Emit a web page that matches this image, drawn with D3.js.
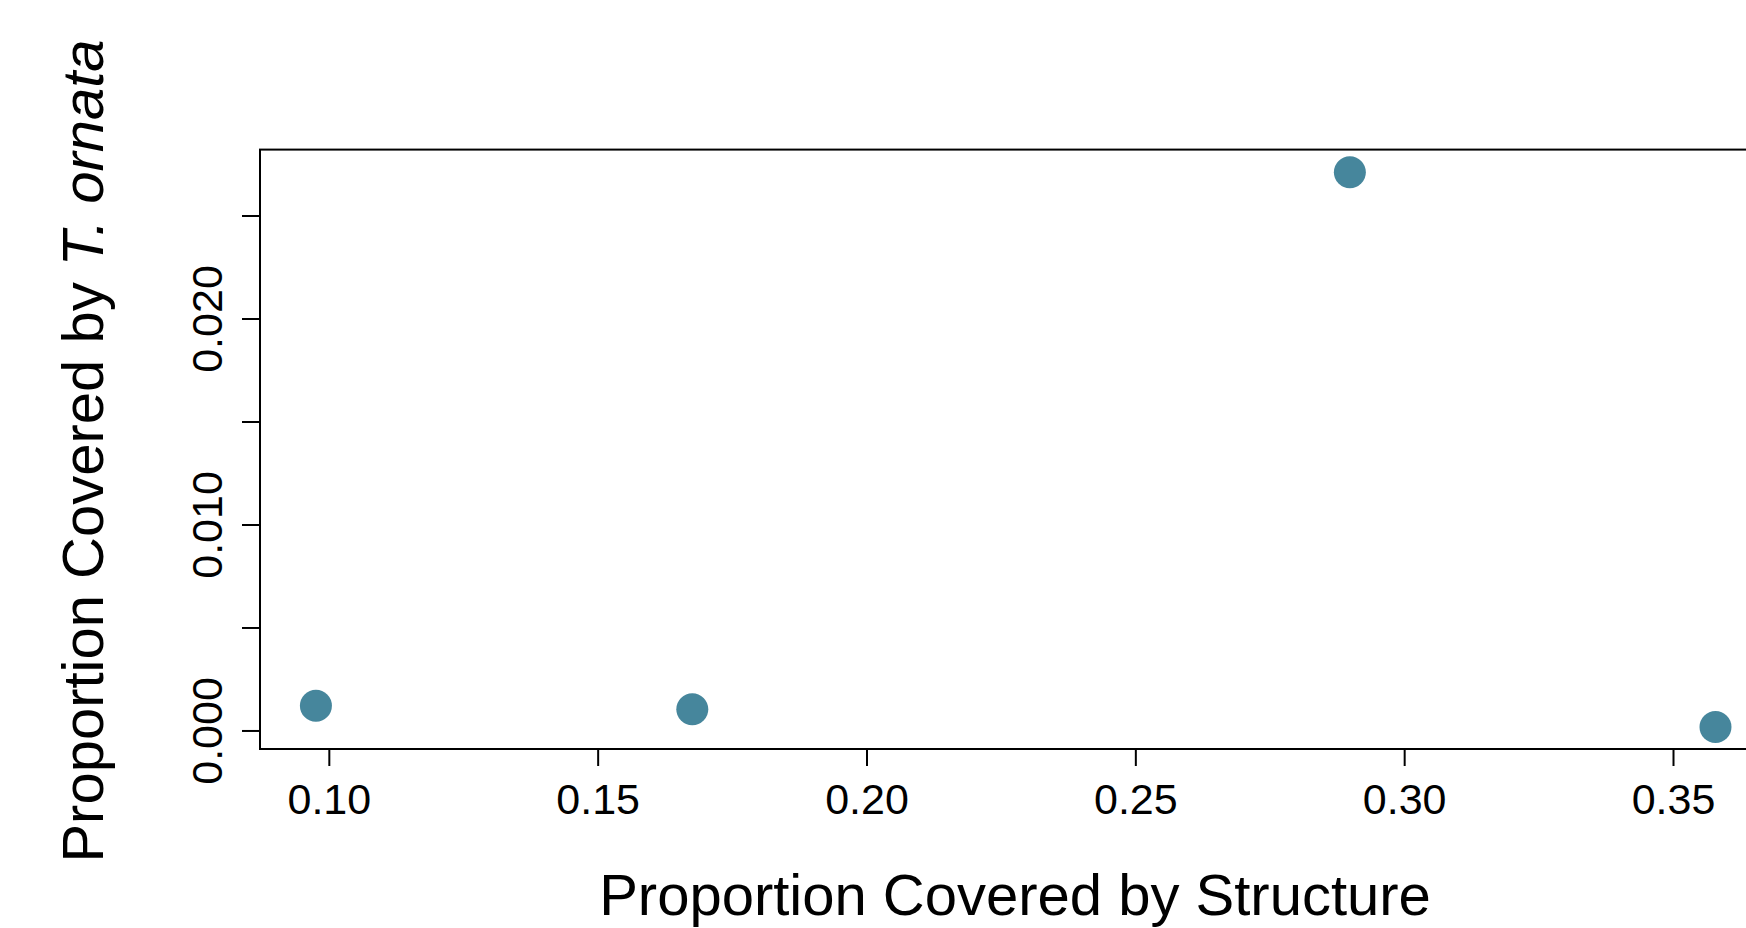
<!DOCTYPE html>
<html>
<head>
<meta charset="utf-8">
<script src="https://cdn.jsdelivr.net/npm/d3@7"></script>
<style>
  html, body { margin: 0; padding: 0; background: #fff; }
  svg { display: block; font-family: "Liberation Sans", Arial, Helvetica, sans-serif; }
</style>
</head>
<body>
<svg id="chart" width="1746" height="928"></svg>
<script>
// Data
const structureCover = [0.0976, 0.1676, 0.2899, 0.3579];
const ornataCover = [0.0012, 0.00103, 0.0271, 0.00017];
const xTicks = [0.10, 0.15, 0.20, 0.25, 0.30, 0.35];
const yTicks = [0.000, 0.005, 0.010, 0.015, 0.020, 0.025];
const yLabeled = [0.000, 0.010, 0.020];

(function () {
const svg = d3.select("#chart");
const plotLeft = 260, plotTop = 149.6, plotBottom = 749, plotRight = 1771.4;

const x = d3.scaleLinear().domain([0.0872, 0.3683]).range([plotLeft, plotRight]);
const y = d3.scaleLinear().domain([-0.0009, 0.0282]).range([plotBottom, plotTop]);

// Box
svg.append("rect")
  .attr("x", plotLeft).attr("y", plotTop)
  .attr("width", plotRight - plotLeft).attr("height", plotBottom - plotTop)
  .attr("fill", "none").attr("stroke", "#000").attr("stroke-width", 2);

// X axis
const gx = svg.append("g")
  .attr("transform", `translate(0,${plotBottom})`)
  .call(d3.axisBottom(x).tickValues(xTicks).tickSize(17).tickPadding(17)
        .tickFormat(d3.format(".2f")));
gx.select(".domain").remove();
gx.selectAll(".tick line").attr("stroke", "#000").attr("stroke-width", 2);
gx.selectAll(".tick text").attr("font-size", 43).attr("fill", "#000")
  .attr("font-family", "'Liberation Sans', Arial, Helvetica, sans-serif");

// Y axis
const gy = svg.append("g")
  .attr("transform", `translate(${plotLeft},0)`)
  .call(d3.axisLeft(y).tickValues(yTicks).tickSize(18)
        .tickFormat(d => yLabeled.some(v => Math.abs(v - d) < 1e-9) ? d3.format(".3f")(d) : ""));
gy.select(".domain").remove();
gy.selectAll(".tick line").attr("stroke", "#000").attr("stroke-width", 2);
gy.selectAll(".tick text")
  .attr("font-size", 43).attr("fill", "#000")
  .attr("font-family", "'Liberation Sans', Arial, Helvetica, sans-serif")
  .attr("x", null).attr("dy", null)
  .attr("text-anchor", "middle")
  .attr("transform", "translate(-38,0) rotate(-90)");

// Points
svg.append("g").selectAll("circle")
  .data(structureCover.map((v, i) => [v, ornataCover[i]]))
  .join("circle")
  .attr("cx", d => x(d[0]))
  .attr("cy", d => y(d[1]))
  .attr("r", 16)
  .attr("fill", "#46869c");

// Axis titles
svg.append("text")
  .attr("x", 1015).attr("y", 915)
  .attr("text-anchor", "middle")
  .attr("font-size", 58).attr("fill", "#000")
  .text("Proportion Covered by Structure");

const yt = svg.append("text")
  .attr("transform", "translate(103,451) rotate(-90)")
  .attr("text-anchor", "middle")
  .attr("font-size", 58).attr("fill", "#000");
yt.append("tspan").text("Proportion Covered by ");
yt.append("tspan").attr("font-style", "italic").text("T. ornata");
})();
</script>
</body>
</html>
